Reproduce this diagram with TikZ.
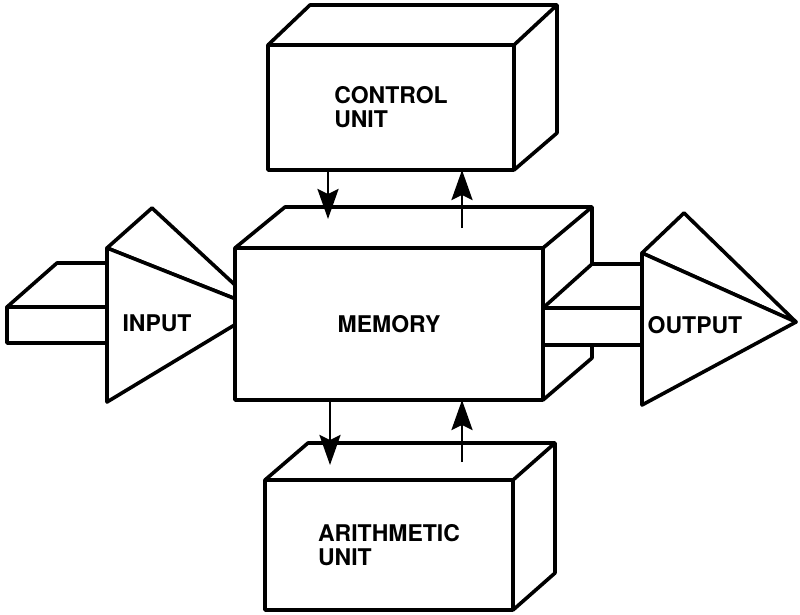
\documentclass[tikz,border=0pt]{standalone}
\usepackage{fontspec}
\setsansfont{TeX Gyre Heros}
\usetikzlibrary{arrows.meta}

\begin{document}
\begin{tikzpicture}[x=1pt,y=-1pt,line width=3.6pt,line join=round,
    face/.style={draw,fill=white,inner sep=0pt,outer sep=0pt,align=left,
      font=\sffamily\bfseries\fontsize{23}{24}\selectfont},
    lbl/.style={inner sep=0pt,font=\sffamily\bfseries\fontsize{23}{24}\selectfont},
    flow/.style={line width=2.8pt,-{Stealth[length=30pt,width=21pt,inset=5pt]}}]
        \useasboundingbox (0,0) rectangle (800,615);
        % Input arrow (tip hidden behind memory)
        \filldraw[fill=white] (7,307) -- (57,263) -- (107,263) -- (107,307) -- cycle;
        \filldraw[fill=white] (7,307) rectangle (107,343);
        \filldraw[fill=white] (107,248) -- (152,208) -- (261,309) -- cycle;
        \filldraw[fill=white] (107,248) -- (261,309) -- (107,402) -- cycle;
        \node[lbl] (input) at (157,323) {INPUT};
        % Memory box
        \node[face,minimum width=308pt,minimum height=152pt] (memory) at (389,324) {MEMORY};
        \draw (memory.north west) -- ++(50,-41) -- ++(307,0) -- ++(0,151) -- (memory.south east);
        \draw (memory.north east) -- ++(49,-41);
        % Output arrow
        \filldraw[fill=white] (543,308) -- (592,264) -- (642,264) -- (642,308) -- cycle;
        \filldraw[fill=white] (543,308) rectangle (642,345);
        \filldraw[fill=white] (642,253) -- (684,213) -- (796,322) -- cycle;
        \filldraw[fill=white] (642,253) -- (796,322) -- (642,405) -- cycle;
        \draw (memory.north east) -- (memory.south east);
        \node[lbl] (output) at (695,325) {OUTPUT};
        % Control unit box
        \node[face,minimum width=246pt,minimum height=125pt] (control) at (391,107.5) {CONTROL\\UNIT};
        \draw (control.north west) -- ++(42,-40) -- ++(247,0) -- ++(0,128) -- (control.south east);
        \draw (control.north east) -- ++(43,-40);
        % Arithmetic unit box
        \node[face,minimum width=248pt,minimum height=130pt] (arith) at (389,545) {ARITHMETIC\\UNIT};
        \draw (arith.north west) -- ++(43,-37) -- ++(247,0) -- ++(0,130) -- (arith.south east);
        \draw (arith.north east) -- ++(42,-37);
        % Arrows between the units
        \coordinate (memin) at (328,219);
        \coordinate (memout) at (462,228);
        \coordinate (arithin) at (330,465);
        \coordinate (arithout) at (462,462);
        \draw[flow] (control.south -| memin) -- (memin);
        \draw[flow] (memout) -- (memout |- control.south);
        \draw[flow] (memory.south -| arithin) -- (arithin);
        \draw[flow] (arithout) -- (arithout |- memory.south);
\end{tikzpicture}
\end{document}
